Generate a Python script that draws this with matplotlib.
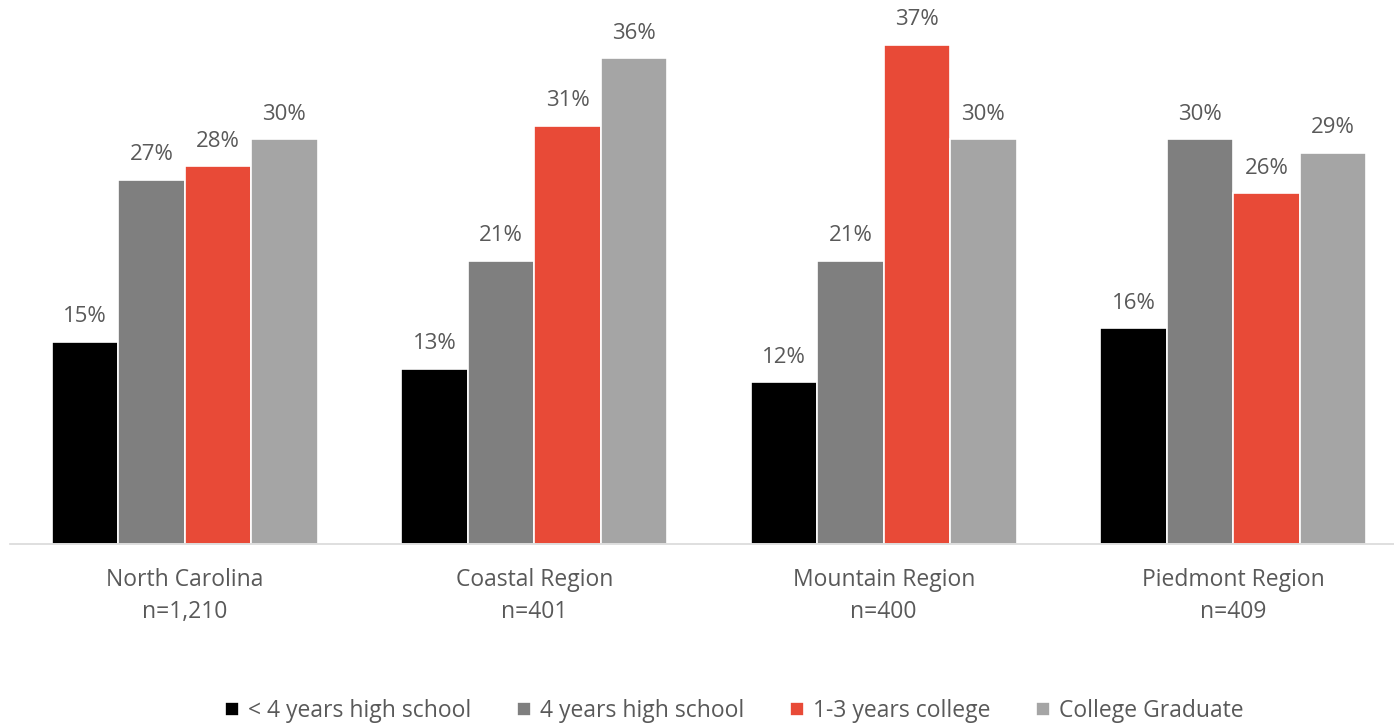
import matplotlib.pyplot as plt
import numpy as np

# data
regions = ['North Carolina\nn=1,210', 'Coastal Region\nn=401',
           'Mountain Region\nn=400', 'Piedmont Region\nn=409']
series = ['< 4 years high school', '4 years high school',
          '1-3 years college', 'College Graduate']
less_hs = [15, 13, 12, 16]
hs = [27, 21, 21, 30]
some_college = [28, 31, 37, 26]
college_grad = [30, 36, 30, 29]

colors = ['#000000', '#7F7F7F', '#E84A37', '#A5A5A5']
text_col = '#595959'
plt.rcParams['font.family'] = ['Open Sans', 'DejaVu Sans']

fig = plt.figure(figsize=(13.94, 7.25), dpi=100)
ax = fig.add_axes([10 / 1394, (725 - 544) / 725, 1384 / 1394, 544 / 725])

x = np.arange(len(regions))
width = 0.19
offsets = np.array([-1.5, -0.5, 0.5, 1.5]) * width

for vals, off, col, name in zip([less_hs, hs, some_college, college_grad],
                                offsets, colors, series):
    bars = ax.bar(x + off, vals, width, color=col, edgecolor='white',
                  linewidth=1.2, label=name, zorder=2)
    for b, v in zip(bars, vals):
        ax.text(b.get_x() + b.get_width() / 2, v + 1.05, f'{v}%',
                ha='center', va='bottom', fontsize=16, color=text_col)

ax.set_xlim(-0.5, 3.46)
ax.set_ylim(0, 40.3)
ax.set_yticks([])
ax.set_xticks(x)
ax.set_xticklabels(regions, fontsize=16.5, color=text_col, linespacing=1.45)
ax.tick_params(axis='x', length=0, pad=17)
for s in ['top', 'right', 'left']:
    ax.spines[s].set_visible(False)
ax.spines['bottom'].set_color('#D9D9D9')
ax.spines['bottom'].set_linewidth(1.2)

leg = fig.legend(loc='lower center', bbox_to_anchor=(0.527, -0.026), ncol=4,
                 frameon=False, fontsize=16.5, handlelength=0.6, handleheight=0.6,
                 handletextpad=0.4, columnspacing=2.0)
for t in leg.get_texts():
    t.set_color(text_col)

fig.savefig('out.png', dpi=100)
